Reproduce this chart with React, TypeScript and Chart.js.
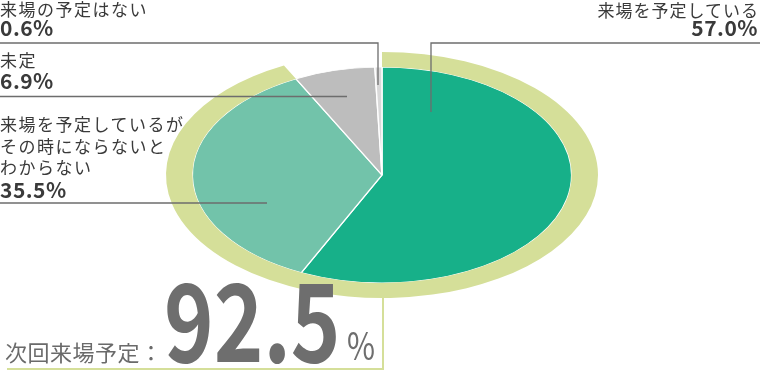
import React, { useEffect, useRef } from 'react';
import { Chart, registerables } from 'chart.js';

Chart.register(...registerables);

// ---- data ----
const categories = [
  '来場を予定している',
  '来場を予定しているが\nその時にならないと\nわからない',
  '未定',
  '来場の予定はない',
];
const shares = [57.0, 35.5, 6.9, 0.6];
const shareLabels = ['57.0%', '35.5%', '6.9%', '0.6%'];
const ringValues = [92.5, 7.5]; // 来場予定 (57.0 + 35.5) / その他
const summaryTitle = '次回来場予定：';
const summaryValue = '92.5';
const summaryUnit = '%';

// ---- style ----
const sliceColors = ['#17b089', '#72c3aa', '#bdbdbd', '#d9d9d9'];
const ringColor = '#d5df99';
const leaderColor = '#6d6d6d';
const textColor = '#3a3a3a';
const SX = 216 / 123; // horizontal stretch of the pie

const FONT = '"Noto Sans CJK JP", "Noto Sans", sans-serif';

const ellipsePlugin = {
  id: 'ellipse',
  beforeDatasetsDraw(chart: any) {
    const arc = chart.getDatasetMeta(1).data[0];
    const ctx = chart.ctx;
    ctx.save();
    ctx.translate(arc.x, arc.y);
    ctx.scale(SX, 1);
    ctx.translate(-arc.x, -arc.y);
  },
  afterDatasetsDraw(chart: any) {
    chart.ctx.restore();
  },
  afterDraw(chart: any) {
    const ctx = chart.ctx;
    const arc = chart.getDatasetMeta(1).data[0];
    const cx = arc.x;
    const cy = arc.y;
    const ringR = chart.getDatasetMeta(0).data[0].outerRadius;
    ctx.save();
    ctx.strokeStyle = leaderColor;
    ctx.lineWidth = 1.3;
    const seg = (pts: number[][]) => {
      ctx.beginPath();
      ctx.moveTo(pts[0][0], pts[0][1]);
      for (let i = 1; i < pts.length; i++) ctx.lineTo(pts[i][0], pts[i][1]);
      ctx.stroke();
    };
    // 0.6%
    seg([[0, 43], [cx - 4, 43], [cx - 4, 85]]);
    // 57.0%
    seg([[760, 43], [cx + 49, 43], [cx + 49, 112]]);
    // 6.9%
    seg([[0, 96.5], [347, 96.5]]);
    // 35.5%
    seg([[0, 203], [267, 203]]);
    // summary frame
    ctx.strokeStyle = ringColor;
    ctx.lineWidth = 2;
    seg([[cx + 1, cy + ringR], [cx + 1, 369], [7, 369]]);
    ctx.restore();
  },
};

export default function App() {
  const ref = useRef<HTMLCanvasElement | null>(null);
  useEffect(() => {
    const canvas = ref.current!;
    const chart = new Chart(canvas, {
      type: 'doughnut',
      data: {
        labels: categories,
        datasets: [
          {
            data: ringValues,
            backgroundColor: [ringColor, 'rgba(0,0,0,0)'],
            borderWidth: 0,
            weight: 15,
            radius: 123,
          } as any,
          {
            data: shares,
            backgroundColor: sliceColors,
            borderColor: '#ffffff',
            borderWidth: 0.8,
            weight: 108,
            radius: 123,
          } as any,
        ],
      },
      options: {
        responsive: false,
        animation: false,
        cutout: 0,
        radius: 123,
        events: [],
        layout: { padding: { left: 259, right: 255, top: 52, bottom: 74 } },
        plugins: { legend: { display: false }, tooltip: { enabled: false } },
      } as any,
      plugins: [ellipsePlugin],
    });
    return () => chart.destroy();
  }, []);

  const lab = (extra: any): any => ({
    position: 'absolute',
    fontFamily: FONT,
    fontSize: 17,
    lineHeight: '17px',
    letterSpacing: '1.5px',
    color: textColor,
    whiteSpace: 'pre',
    margin: 0,
    ...extra,
  });
  const pct = (extra: any): any => ({
    position: 'absolute',
    fontFamily: FONT,
    fontSize: 21,
    lineHeight: '21px',
    fontWeight: 700,
    letterSpacing: '0.5px',
    color: textColor,
    whiteSpace: 'pre',
    ...extra,
  });

  return (
    <div style={{ position: 'absolute', left: 0, top: 0, width: 760, height: 372, background: '#fff', overflow: 'hidden' }}>
      <canvas ref={ref} width={760} height={372} style={{ position: 'absolute', left: 0, top: 0, width: 760, height: 372 }} />
      <div style={lab({ left: 0, top: 0 })}>{categories[3]}</div>
      <div style={pct({ left: 0, top: 17 })}>{shareLabels[3]}</div>
      <div style={lab({ left: 0, top: 51 })}>{categories[2]}</div>
      <div style={pct({ left: 0, top: 70 })}>{shareLabels[2]}</div>
      <div style={lab({ left: 0, top: 113, lineHeight: '21.5px' })}>{categories[1]}</div>
      <div style={pct({ left: 0, top: 179 })}>{shareLabels[1]}</div>
      <div style={lab({ right: 1, top: 1, letterSpacing: '1px' })}>{categories[0]}</div>
      <div style={pct({ right: 2, top: 17 })}>{shareLabels[0]}</div>
      <div style={lab({ left: 5, top: 340, fontSize: 22, lineHeight: '22px', letterSpacing: '0.5px', color: '#6a6a6a' })}>{summaryTitle}</div>
      <div
        style={{
          position: 'absolute',
          left: 164,
          top: 261,
          fontFamily: FONT,
          fontSize: 108,
          lineHeight: '108px',
          fontWeight: 700,
          color: '#6e6e6e',
          whiteSpace: 'pre',
          transform: 'scaleX(0.78)',
          transformOrigin: 'left top',
        }}
      >
        {summaryValue}
      </div>
      <div
        style={{
          position: 'absolute',
          left: 347,
          top: 325,
          fontFamily: FONT,
          fontSize: 38,
          lineHeight: '38px',
          color: '#6e6e6e',
          whiteSpace: 'pre',
          transform: 'scaleX(0.8)',
          transformOrigin: 'left top',
        }}
      >
        {summaryUnit}
      </div>
    </div>
  );
}
